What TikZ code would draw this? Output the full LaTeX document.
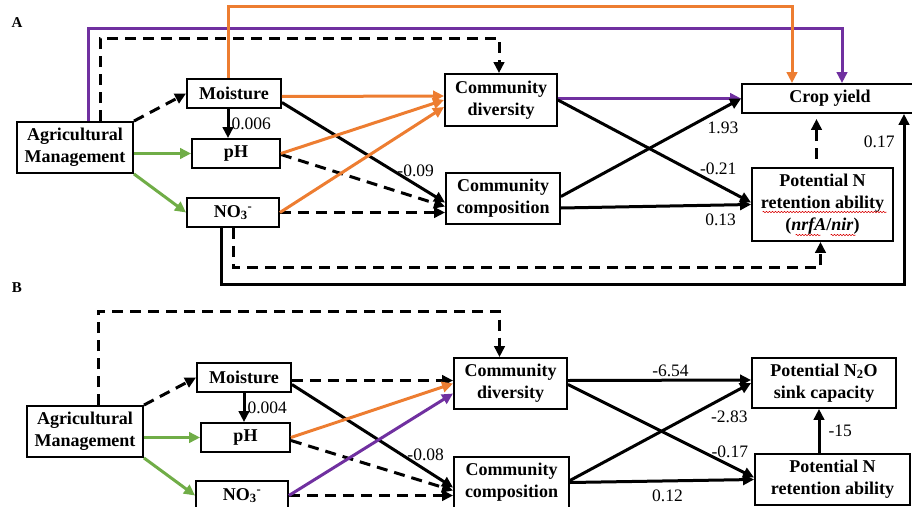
\documentclass[tikz,border=0pt]{standalone}
\usepackage{fontspec}
\setmainfont{Liberation Serif}
\usepackage{xcolor}
\usetikzlibrary{arrows.meta,calc,decorations.pathmorphing}
\definecolor{orangeln}{RGB}{237,125,49}
\definecolor{purpleln}{RGB}{112,48,160}
\definecolor{greenln}{RGB}{112,173,71}

\begin{document}
\begin{tikzpicture}[
  x=1pt,y=-1pt,
  box/.style={draw,line width=1.9pt,align=center,inner sep=2pt,
              font=\fontsize{18}{22}\selectfont\bfseries,minimum height=29pt},
  ar/.style={-{Triangle[length=11pt,width=10.5pt]},line width=3pt},
  dar/.style={ar,dash pattern=on 11pt off 7pt},
  oar/.style={ar,orangeln},
  par/.style={ar,purpleln},
  gar/.style={ar,greenln},
  lbl/.style={font=\fontsize{17.5}{21}\selectfont,inner sep=2pt},
  tag/.style={font=\fontsize{15}{18}\selectfont\bfseries,inner sep=0pt},
  squig/.style={red!85!black,line width=0.5pt,decorate,
                decoration={snake,amplitude=0.7pt,segment length=3pt}},
]
\useasboundingbox (0,0) rectangle (912,506);
\clip (0,0) rectangle (912,506);

% panel A
\node[tag] (labA) at (17,23) {A};
\node[box,minimum width=116pt,minimum height=51pt] (amA) at (75,147.5) {Agricultural\\Management};
\node[box,minimum width=94pt] (moiA) at (234,93.5) {Moisture};
\node[box,minimum width=88pt] (phA) at (236,153.5) {pH};
\node[box,minimum width=92pt] (noA) at (233,212.5) {NO\textsubscript{3}\textsuperscript{-}};
\node[box,minimum width=112pt,minimum height=52pt] (cdA) at (501,100) {Community\\diversity};
\node[box,minimum width=114pt,minimum height=51pt] (ccA) at (503,198.5) {Community\\composition};
\node[box,minimum width=176pt] (cyA) at (830,98.5) {Crop yield};
\node[box,minimum width=141pt,minimum height=73pt] (pnA) at (822.5,204.5) {Potential N\\retention ability\\(\textit{nrfA}/\textit{nir})};

\draw[dar] ($(amA.north)+(25,0)$) -- ++(0,-83) -| ($(cdA.north)+(-2,0)$);
\draw[par] ($(amA.north)+(13,0)$) -- ++(0,-93) -| ($(cyA.north)+(12,0)$);
\draw[oar] ($(moiA.north)+(-6,0)$) -- ++(0,-72) -| ($(cyA.north)+(-38,0)$);

\draw[dar] (amA.north east) -- (moiA.west);
\draw[gar] (phA.west -| amA.east) -- (phA.west);
\draw[gar] (amA.south east) -- (noA.west);
\draw[ar] ($(moiA.south)+(-6,0)$) coordinate (mA) -- (mA |- phA.north) node[lbl,midway,right] {0.006};

\draw[ar] ($(moiA.east)+(0,9)$) -- ($(ccA.west)+(0,4)$) node[lbl,pos=0.82,above=4pt] {-0.09};
\draw[dar] ($(phA.east)+(0,1)$) -- ($(ccA.west)+(0,8)$);
\draw[dar] (noA.east) -- (noA.east -| ccA.west);
\draw[oar] ($(moiA.east)+(0,3)$) -- ($(cdA.west)+(0,-4)$);
\draw[oar] (phA.east) -- (cdA.west);
\draw[oar] (noA.east) -- ($(cdA.west)+(0,7)$);

\draw[par] (cyA.west -| cdA.east) -- (cyA.west);
\draw[ar] (cdA.east) -- ($(pnA.west)+(0,-2)$) node[lbl,pos=0.83,above=7pt] {-0.21};
\draw[ar] ($(ccA.east)+(0,-2)$) -- (cyA.west) node[lbl,pos=0.9,below=10pt] {1.93};
\draw[ar] ($(ccA.east)+(0,9.5)$) -- (pnA.west) node[lbl,pos=0.84,below=5pt] {0.13};
\draw[dar,shorten <=8pt,shorten >=5pt] ($(pnA.north)+(-6,0)$) coordinate (pA) -- (pA |- cyA.south);

\draw[dar] (noA.south) -- ++(0,40) -| ($(pnA.south)+(-2,0)$);
\draw[ar] ($(noA.south)+(-12,0)$) -- ++(0,57) -| ($(cyA.south)+(74,0)$) node[lbl,pos=0.92,left=6pt] {0.17};

\draw[squig] ($(pnA.center)+(-60,7.5)$) -- ($(pnA.center)+(64,7.5)$);
\draw[squig] ($(pnA.center)+(-27,30.5)$) -- ($(pnA.center)+(-2,30.5)$);
\draw[squig] ($(pnA.center)+(8,30.5)$) -- ($(pnA.center)+(33,30.5)$);

% panel B
\node[tag] (labB) at (17,288) {B};
\node[box,minimum width=116pt,minimum height=51pt] (amB) at (85,431.5) {Agricultural\\Management};
\node[box,minimum width=94pt] (moiB) at (244,377.5) {Moisture};
\node[box,minimum width=89pt] (phB) at (245.5,437.5) {pH};
\node[box,minimum width=92pt] (noB) at (242,495.5) {NO\textsubscript{3}\textsuperscript{-}};
\node[box,minimum width=113pt,minimum height=51pt] (cdB) at (510.5,383.5) {Community\\diversity};
\node[box,minimum width=115pt,minimum height=51pt] (ccB) at (511.5,482.5) {Community\\composition};
\node[box,minimum width=144pt,minimum height=50pt] (n2oB) at (824,383) {Potential N\textsubscript{2}O\\sink capacity};
\node[box,minimum width=155pt,minimum height=51pt] (pnB) at (832.5,479.5) {Potential N\\retention ability};

\draw[dar] ($(amB.north)+(13,0)$) -- ++(0,-94) -| ($(cdB.north)+(-11,0)$);
\draw[dar] (amB.north east) -- (moiB.west);
\draw[gar] (phB.west -| amB.east) -- (phB.west);
\draw[gar] (amB.south east) -- (noB.west);
\draw[ar] (moiB.south) -- (moiB.south |- phB.north) node[lbl,midway,right] {0.004};

\draw[dar] ($(moiB.east)+(0,3)$) -- ($(cdB.west)+(0,-3)$);
\draw[ar] ($(moiB.east)+(0,7)$) -- ($(ccB.west)+(0,5)$) node[lbl,pos=0.83,above=6pt] {-0.08};
\draw[dar] ($(phB.east)+(0,3)$) -- ($(ccB.west)+(0,8)$);
\draw[dar] (noB.east) -- (noB.east -| ccB.west);
\draw[oar] (phB.east) -- (cdB.west);
\draw[par] (noB.east) -- ($(cdB.west)+(0,10)$);

\draw[ar] ($(cdB.east)+(0,-3)$) -- ($(n2oB.west)+(0,-3)$) node[lbl,pos=0.56,above] {-6.54};
\draw[ar] ($(cdB.east)+(0,1)$) -- ($(pnB.west)+(0,-2)$) node[lbl,pos=0.87,above=4pt] {-0.17};
\draw[ar] ($(ccB.east)+(0,-2)$) -- (n2oB.west) node[lbl,pos=0.88,below=13pt] {-2.83};
\draw[ar] (ccB.east) -- (pnB.west) node[lbl,pos=0.53,below=5pt] {0.12};
\draw[ar] ($(pnB.north)+(-13.5,0)$) coordinate (pB) -- (pB |- n2oB.south) node[lbl,midway,right=6pt] {-15};
\end{tikzpicture}
\end{document}
